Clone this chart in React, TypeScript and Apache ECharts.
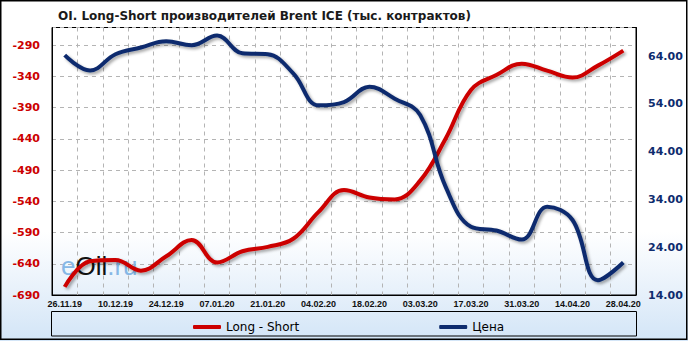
import React, { useEffect, useRef } from "react";
import * as echarts from "echarts";

const categories = [
  "26.11.19", "03.12.19", "10.12.19", "17.12.19", "24.12.19", "31.12.19",
  "07.01.20", "14.01.20", "21.01.20", "28.01.20", "04.02.20", "11.02.20",
  "18.02.20", "25.02.20", "03.03.20", "10.03.20", "17.03.20", "24.03.20",
  "31.03.20", "07.04.20", "14.04.20", "21.04.20", "28.04.20",
];
const longShort = [
  -677, -636, -634, -651, -628, -602, -638, -620, -613, -600, -557, -522,
  -534, -537, -507, -440, -362, -338, -320, -331, -342, -323, -299,
];
const price = [
  64.2, 61.0, 64.4, 65.8, 67.1, 66.3, 68.3, 64.6, 64.4, 60.4, 53.7, 54.4,
  57.6, 55.1, 51.7, 36.7, 28.3, 27.5, 25.6, 32.5, 29.7, 17.1, 20.8,
];
const seriesNames = ["Long - Short", "Цена"];
const titleText = "OI. Long-Short производителей Brent ICE (тыс. контрактов)";

export default function App() {
  const ref = useRef<HTMLDivElement>(null);
  useEffect(() => {
    if (!ref.current) return;
    const chart = echarts.init(ref.current, undefined, { renderer: "svg" });
    const shadow = {
      shadowColor: "rgba(0,0,0,0.35)",
      shadowBlur: 3,
      shadowOffsetX: 2,
      shadowOffsetY: 2,
    };
    chart.setOption({
      animation: false,
      backgroundColor: new echarts.graphic.LinearGradient(0, 0, 0, 1, [
        { offset: 0, color: "#ffffff" },
        { offset: 0.68, color: "#ffffff" },
        { offset: 1, color: "#d3e5f7" },
      ]),
      title: {
        text: titleText,
        left: 53,
        top: 5,
        textStyle: {
          fontFamily: "DejaVu Sans",
          fontWeight: "bold",
          fontSize: 12,
          color: "#1a1a1a",
        },
      },
      grid: {
        left: 52,
        right: 52,
        top: 27.5,
        bottom: 46,
        show: true,
        borderColor: "#000",
        borderWidth: 1,
        backgroundColor: "transparent",
      },
      legend: {
        data: seriesNames,
        left: 188,
        top: 316,
        itemWidth: 28,
        itemHeight: 4,
        itemGap: 140,
        icon: "roundRect",
        textStyle: { fontFamily: "DejaVu Sans", fontSize: 12, color: "#000" },
      },
      xAxis: {
        type: "category",
        data: categories,
        boundaryGap: true,
        axisLine: { lineStyle: { color: "#000", width: 1 } },
        axisTick: { show: false },
        axisLabel: {
          interval: 1,
          margin: 4,
          fontFamily: "Liberation Sans",
          fontWeight: "bold",
          fontSize: 9,
          color: "#111",
        },
        splitLine: {
          show: true,
          interval: 0,
          lineStyle: { color: "#b4b4b4", type: [4, 4], width: 1 },
        },
      },
      yAxis: [
        {
          type: "value",
          min: -690,
          max: -262,
          interval: 50,
          axisLine: { show: true, lineStyle: { color: "#000", width: 1 } },
          axisTick: { show: false },
          axisLabel: {
            showMaxLabel: false,
            margin: 12,
            fontFamily: "DejaVu Sans",
            fontWeight: "bold",
            fontSize: 11,
            color: "#cc0000",
          },
          splitLine: {
            show: true,
            lineStyle: { color: "#b4b4b4", type: [4, 4], width: 1 },
          },
        },
        {
          type: "value",
          min: 14,
          max: 70,
          interval: 10,
          position: "right",
          axisLine: { show: true, lineStyle: { color: "#000", width: 1 } },
          axisTick: { show: false },
          axisLabel: {
            showMaxLabel: false,
            margin: 12,
            fontFamily: "DejaVu Sans",
            fontWeight: "bold",
            fontSize: 11,
            color: "#0e2c6e",
            formatter: (v: number) => v.toFixed(2),
          },
          splitLine: { show: false },
        },
      ],
      graphic: [
        {
          type: "text",
          left: 61,
          top: 253,
          z: 1,
          style: {
            text: "{a|e}{b|Oil}{a|.ru}",
            rich: {
              a: { fontFamily: "Liberation Sans", fontSize: 26, fill: "#86b8e6" },
              b: { fontFamily: "Liberation Sans", fontSize: 26, fill: "#111" },
            },
          },
        },
        {
          type: "rect",
          shape: { x: 51.5, y: 311.5, width: 585, height: 24.5 },
          style: { fill: "none", stroke: "#000", lineWidth: 1 },
        },
        {
          type: "rect",
          shape: { x: 0.75, y: 0.75, width: 686, height: 338.6 },
          style: { fill: "none", stroke: "#000", lineWidth: 1.5 },
        },
      ],
      series: [
        {
          name: seriesNames[0],
          type: "line",
          yAxisIndex: 0,
          data: longShort,
          smooth: 0.4,
          symbol: "none",
          color: "#cc0000",
          lineStyle: { width: 4, color: "#cc0000", ...shadow },
          z: 3,
        },
        {
          name: seriesNames[1],
          type: "line",
          yAxisIndex: 1,
          data: price,
          smooth: 0.4,
          symbol: "none",
          color: "#0e2c6e",
          lineStyle: { width: 4, color: "#0e2c6e", ...shadow },
          z: 3,
        },
      ],
    });
    return () => chart.dispose();
  }, []);
  return (
    <div
      ref={ref}
      style={{ position: "absolute", left: 0, top: 0, width: 688, height: 341 }}
    />
  );
}
